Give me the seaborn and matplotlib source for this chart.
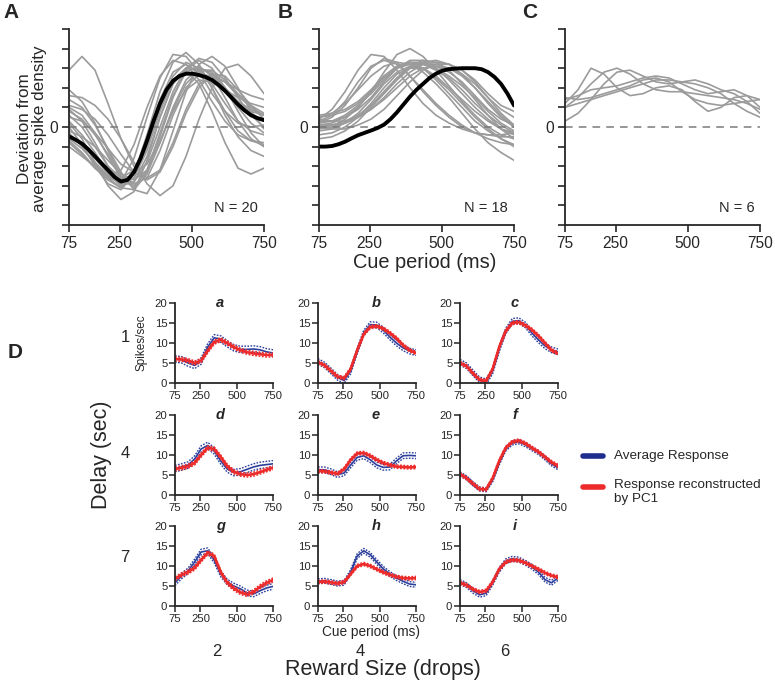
import matplotlib
matplotlib.use("Agg")
import matplotlib.pyplot as plt
from matplotlib.lines import Line2D
import pandas as pd
import seaborn as sns

# sample times (ms) of the cue period
t = [75, 120, 165, 210, 255, 300, 345, 390, 435, 480, 525, 570, 615, 660, 705, 750]
# finer sampling for the two population means
t_fine = [75, 97.5, 120, 142.5, 165, 187.5, 210, 232.5, 255, 277.5, 300, 322.5, 345, 367.5, 390,
          412.5, 435, 457.5, 480, 502.5, 525, 547.5, 570, 592.5, 615, 637.5, 660, 682.5, 705, 727.5, 750]
x_ticks = [75, 250, 500, 750]

# A: deviation from average spike density, 20 cells + mean
cells_a = [
    [2.9, 3.6, 2.9, 1.2, -0.6, -2.0, -2.6, -2.2, -0.8, 0.9, 2.2, 2.6, 2.3, 1.6, 1.0, 0.6],
    [1.0, 0.6, -0.3, -1.5, -2.6, -3.1, -2.2, -0.3, 1.6, 2.8, 3.1, 2.6, 1.5, 0.3, -0.6, -1.0],
    [0.3, -0.4, -1.3, -2.3, -3.0, -2.6, -1.0, 1.0, 2.6, 3.3, 3.0, 2.0, 0.8, -0.2, -0.7, -0.9],
    [-0.8, -1.4, -2.1, -2.7, -3.1, -2.4, -0.6, 1.4, 2.8, 3.2, 2.7, 2.3, 1.9, 1.5, 1.2, 1.0],
    [1.4, 1.0, 0.1, -1.1, -2.3, -3.2, -3.4, -2.2, -0.2, 1.8, 3.2, 3.6, 3.1, 2.0, 0.8, -0.1],
    [-0.3, -1.0, -1.9, -2.6, -2.8, -1.6, 0.5, 2.5, 3.7, 3.6, 2.8, 1.7, 0.8, 0.2, 0.0, 0.1],
    [0.6, 0.0, -1.0, -2.0, -2.6, -2.2, -0.8, 1.0, 2.4, 3.0, 2.9, 2.4, 1.8, 1.2, 0.8, 0.6],
    [1.6, 1.5, 1.1, 0.4, -0.6, -1.8, -2.9, -3.5, -3.0, -1.5, 0.4, 2.0, 3.0, 3.2, 2.6, 1.7],
    [0.2, -0.6, -1.8, -3.0, -3.7, -3.3, -1.7, 0.5, 2.2, 3.0, 2.9, 2.2, 1.2, 0.3, -0.2, -0.4],
    [-0.2, -0.5, -1.0, -1.7, -2.4, -2.7, -2.2, -0.8, 0.9, 2.2, 2.9, 2.9, 2.4, 1.7, 1.1, 0.7],
    [0.9, 0.3, -0.8, -2.0, -2.8, -2.6, -1.2, 0.8, 2.4, 2.9, 2.2, 0.8, -0.8, -2.1, -2.4, -2.1],
    [-1.0, -1.5, -2.0, -2.6, -3.1, -3.2, -2.4, -0.8, 1.0, 2.4, 3.0, 2.8, 2.0, 1.0, 0.2, -0.3],
    [0.5, 0.3, -0.3, -1.1, -1.9, -2.3, -1.9, -0.7, 0.8, 1.9, 2.4, 2.3, 1.8, 1.3, 0.9, 0.6],
    [1.9, 1.3, 0.2, -1.2, -2.5, -3.0, -2.3, -0.5, 1.5, 2.9, 3.4, 3.0, 2.0, 0.8, -0.3, -1.0],
    [0.0, -0.9, -2.0, -2.9, -3.2, -2.4, -0.4, 1.8, 3.3, 3.8, 3.2, 2.0, 0.6, -0.5, -1.2, -1.5],
    [-0.6, -1.1, -1.8, -2.5, -2.9, -2.8, -1.8, 0.0, 1.8, 3.0, 3.5, 3.3, 2.5, 1.5, 0.6, 0.0],
    [1.1, 0.9, 0.4, -0.4, -1.4, -2.3, -2.7, -2.3, -1.0, 0.7, 2.0, 2.7, 2.6, 1.9, 1.1, 0.4],
    [-0.4, -0.9, -1.6, -2.4, -3.0, -2.8, -1.5, 0.5, 2.2, 3.0, 3.0, 2.7, 2.3, 1.9, 1.6, 1.4],
    [0.8, 0.4, -0.4, -1.4, -2.4, -2.9, -2.6, -1.2, 0.6, 2.0, 2.7, 2.6, 2.0, 1.3, 0.7, 0.3],
    [-0.7, -1.3, -2.1, -2.5, -2.2, -0.9, 1.0, 2.6, 3.4, 3.2, 2.4, 1.3, 0.3, -0.4, -0.7, -0.8],
]
mean_a = [-0.48, -0.65, -0.85, -1.15, -1.5, -1.85, -2.2, -2.55, -2.78, -2.7, -2.3, -1.6, -0.7, 0.3,
          1.2, 1.9, 2.35, 2.6, 2.72, 2.72, 2.65, 2.55, 2.4, 2.15, 1.85, 1.5, 1.15, 0.85, 0.6, 0.45, 0.35]

# B: 18 cells + mean
cells_b = [
    [0.4, 0.9, 1.8, 2.9, 3.7, 3.6, 2.9, 2.0, 1.2, 0.6, 0.2, -0.1, -0.3, -0.4, -0.5, -0.5],
    [0.2, 0.5, 1.1, 2.0, 3.0, 3.5, 3.3, 2.6, 1.8, 1.1, 0.5, 0.0, -0.3, -0.4, -0.4, -0.3],
    [0.1, 0.2, 0.5, 1.0, 1.8, 2.8, 3.7, 4.0, 3.6, 2.9, 2.1, 1.3, 0.6, 0.0, -0.4, -0.6],
    [0.3, 0.3, 0.5, 0.9, 1.5, 2.3, 3.0, 3.4, 3.4, 3.0, 2.4, 1.7, 1.0, 0.4, -0.1, -0.4],
    [0.0, 0.0, 0.2, 0.5, 1.0, 1.7, 2.4, 3.0, 3.3, 3.4, 3.2, 2.7, 2.0, 1.2, 0.5, 0.0],
    [0.5, 0.7, 1.2, 1.9, 2.6, 3.1, 3.3, 3.2, 2.8, 2.2, 1.5, 0.7, -0.1, -0.8, -1.3, -1.7],
    [-0.2, -0.1, 0.2, 0.7, 1.4, 2.2, 2.8, 3.1, 3.2, 3.1, 2.8, 2.3, 1.6, 0.9, 0.4, 0.1],
    [0.6, 0.7, 0.9, 1.3, 1.9, 2.6, 3.1, 3.3, 3.2, 2.9, 2.5, 1.9, 1.2, 0.6, 0.1, -0.3],
    [0.0, 0.1, 0.3, 0.6, 1.1, 1.8, 2.5, 3.1, 3.4, 3.3, 2.9, 2.2, 1.4, 0.6, -0.1, -0.6],
    [-0.6, -0.5, -0.2, 0.3, 1.0, 1.8, 2.5, 3.0, 3.2, 3.2, 3.0, 2.6, 2.0, 1.3, 0.6, 0.0],
    [0.3, 0.6, 1.3, 2.3, 3.1, 3.4, 3.2, 2.6, 1.9, 1.2, 0.6, 0.1, -0.3, -0.6, -0.8, -0.9],
    [0.1, 0.1, 0.2, 0.5, 0.9, 1.5, 2.2, 2.8, 3.2, 3.3, 3.2, 2.9, 2.4, 1.7, 1.1, 0.8],
    [-0.4, -0.3, 0.0, 0.5, 1.2, 2.0, 2.7, 3.0, 3.0, 2.6, 2.0, 1.4, 0.8, 0.3, -0.1, -0.3],
    [0.2, 0.3, 0.6, 1.1, 1.7, 2.4, 3.0, 3.3, 3.3, 3.0, 2.6, 2.1, 1.5, 0.8, 0.2, -0.2],
    [0.4, 0.3, 0.3, 0.5, 0.9, 1.4, 2.0, 2.6, 3.0, 3.1, 3.0, 2.7, 2.2, 1.5, 0.9, 0.5],
    [-0.1, 0.0, 0.4, 1.0, 1.8, 2.6, 3.1, 3.3, 3.0, 2.4, 1.7, 1.0, 0.3, -0.2, -0.6, -0.9],
    [0.0, -0.1, -0.1, 0.1, 0.4, 0.9, 1.6, 2.3, 2.9, 3.2, 3.2, 2.9, 2.3, 1.5, 0.7, 0.1],
    [0.5, 0.6, 0.8, 1.2, 1.8, 2.5, 3.0, 3.2, 3.0, 2.5, 1.9, 1.2, 0.5, -0.1, -0.6, -1.0],
]
mean_b = [-1.0, -1.0, -0.97, -0.88, -0.75, -0.58, -0.42, -0.3, -0.18, -0.05, 0.12, 0.4, 0.75, 1.15,
          1.55, 1.9, 2.2, 2.5, 2.72, 2.88, 2.95, 2.98, 3.0, 3.0, 3.0, 2.95, 2.8, 2.55, 2.2, 1.7, 1.1]

# C: 6 cells, no mean
cells_c = [
    [1.2, 1.9, 3.0, 2.7, 2.0, 1.6, 1.7, 2.0, 2.1, 1.9, 1.3, 0.8, 1.0, 1.5, 1.6, 1.4],
    [1.0, 1.5, 2.2, 2.8, 3.0, 2.7, 2.2, 1.9, 1.8, 1.8, 1.7, 1.6, 1.5, 1.4, 1.2, 0.9],
    [0.3, 0.7, 1.4, 2.2, 2.8, 2.9, 2.6, 2.3, 2.2, 2.3, 2.4, 2.2, 1.9, 1.7, 1.3, 0.7],
    [1.4, 1.6, 1.9, 2.0, 2.1, 2.3, 2.5, 2.6, 2.5, 2.2, 1.9, 1.7, 1.8, 1.9, 1.6, 1.0],
    [1.0, 1.2, 1.4, 1.6, 1.8, 2.0, 2.2, 2.4, 2.4, 2.3, 2.2, 2.0, 1.7, 1.2, 0.8, 0.5],
    [1.5, 1.4, 1.5, 1.7, 1.9, 2.1, 2.4, 2.5, 2.3, 1.8, 1.4, 1.2, 1.1, 1.2, 1.3, 1.4],
]
panel_n = [20, 18, 6]

# D: spikes/sec, panels a..i (rows = delay, cols = reward size)
delays = ["1", "4", "7"]
rewards = ["2", "4", "6"]
panel_tags = ["a", "b", "c", "d", "e", "f", "g", "h", "i"]
avg_resp = [
    [6.0, 5.8, 5.0, 4.4, 5.5, 9.0, 11.3, 11.0, 9.8, 8.8, 8.4, 8.4, 8.5, 8.3, 7.8, 7.5],
    [5.4, 4.5, 3.0, 1.4, 0.6, 3.0, 8.0, 12.5, 14.6, 14.5, 13.2, 11.5, 10.0, 8.8, 8.0, 7.6],
    [5.2, 4.3, 2.5, 0.8, 0.3, 3.0, 8.5, 13.0, 15.4, 15.6, 14.5, 12.5, 10.8, 9.3, 8.3, 7.8],
    [6.6, 7.0, 7.5, 9.0, 11.5, 12.4, 11.0, 8.5, 6.5, 5.6, 5.8, 6.4, 7.0, 7.4, 7.6, 7.8],
    [6.3, 6.3, 5.8, 5.1, 5.5, 7.5, 9.4, 9.8, 8.8, 7.5, 6.9, 7.0, 8.5, 9.8, 9.9, 9.8],
    [5.3, 4.3, 2.8, 1.5, 1.3, 3.8, 8.0, 11.5, 13.0, 13.3, 12.6, 11.6, 10.6, 9.3, 7.8, 6.8],
    [5.8, 7.5, 8.8, 11.0, 13.5, 13.8, 11.5, 8.0, 6.0, 5.0, 4.3, 3.3, 3.0, 3.8, 4.5, 4.9],
    [6.2, 6.3, 6.0, 5.6, 5.8, 8.5, 12.5, 13.8, 12.8, 11.0, 9.3, 8.0, 7.0, 6.2, 5.5, 5.3],
    [6.0, 5.2, 3.8, 2.8, 3.2, 5.8, 9.0, 11.2, 11.8, 11.6, 10.8, 9.8, 8.5, 6.6, 5.8, 7.0],
]
pc1_resp = [
    [6.0, 5.9, 5.6, 5.0, 5.6, 8.0, 10.2, 10.8, 10.0, 9.0, 8.2, 7.7, 7.4, 7.2, 7.0, 7.0],
    [5.2, 4.4, 3.0, 1.6, 1.2, 3.5, 8.2, 12.2, 14.0, 14.2, 13.6, 12.5, 11.2, 9.5, 8.2, 7.5],
    [5.0, 4.2, 2.4, 0.8, 0.5, 3.5, 9.0, 13.0, 15.0, 15.2, 14.4, 13.3, 11.8, 10.0, 8.2, 7.4],
    [6.5, 6.8, 7.2, 8.0, 10.0, 11.8, 11.5, 9.5, 7.2, 5.8, 5.2, 5.0, 5.2, 5.7, 6.3, 6.8],
    [6.0, 5.9, 5.6, 5.3, 6.5, 8.8, 10.4, 10.5, 9.8, 8.8, 8.0, 7.5, 7.1, 7.0, 6.9, 7.0],
    [5.2, 4.2, 2.8, 1.5, 1.4, 4.2, 8.5, 11.8, 13.3, 13.6, 12.9, 11.8, 10.8, 9.5, 8.2, 7.3],
    [6.8, 7.8, 8.5, 9.5, 11.5, 13.3, 12.5, 8.5, 5.8, 4.4, 3.4, 2.9, 3.5, 4.8, 5.8, 6.5],
    [6.0, 6.1, 5.9, 5.6, 6.0, 8.0, 10.0, 10.5, 10.0, 9.2, 8.4, 7.8, 7.3, 7.0, 6.9, 7.0],
    [5.8, 5.2, 4.2, 3.5, 3.8, 6.0, 9.2, 11.0, 11.5, 11.4, 10.8, 10.0, 9.2, 8.3, 7.6, 7.2],
]
avg_sem = [0.8, 0.7, 0.7, 0.8, 0.7, 0.5, 0.7, 0.6, 0.6]
pc1_sem = [0.5, 0.4, 0.4, 0.5, 0.4, 0.4, 0.5, 0.4, 0.4]

sns.set_style("ticks")
plt.rcParams["font.family"] = ["Liberation Sans", "DejaVu Sans"]
plt.rcParams["axes.linewidth"] = 1.3

W, H = 775, 682
fig = plt.figure(figsize=(W / 100, H / 100), dpi=100)


def box(left, top, w, h):
    # pixel box -> figure fraction
    return [left / W, 1 - (top + h) / H, w / W, h / H]


def ftext(x, y, s, **kw):
    fig.text(x / W, 1 - y / H, s, ha=kw.pop("ha", "center"), va=kw.pop("va", "center"), **kw)


def cells_frame(cells):
    rows = []
    for i, c in enumerate(cells):
        for tt, v in zip(t, c):
            rows.append((i, tt, v))
    return pd.DataFrame(rows, columns=["cell", "t", "v"])


GRAY = "#9b9b9b"
BLUE = "#2c3f9c"
RED = "#ee2b2b"

# ---- top row A, B, C
top_panels = [(69, cells_a, mean_a, "A", 3), (319, cells_b, mean_b, "B", 278), (565, cells_c, None, "C", 522)]
for k, (left, cells, mean, tag, tag_x) in enumerate(top_panels):
    ax = fig.add_axes(box(left, 29, 195, 196))
    sns.lineplot(data=cells_frame(cells), x="t", y="v", units="cell", estimator=None,
                 color=GRAY, lw=1.2, ax=ax)
    ax.axhline(0, color="#7a7a7a", lw=1.1, ls=(0, (5, 4)))
    if mean is not None:
        sns.lineplot(x=t_fine, y=mean, color="black", lw=2.8, ax=ax)
    ax.set_xlim(75, 750)
    ax.set_ylim(-5, 5)
    ax.set_yticks(range(-5, 6))
    ax.set_yticklabels(["0" if v == 0 else "" for v in range(-5, 6)])
    ax.set_xticks(x_ticks)
    ax.tick_params(labelsize=11.2, length=5, width=1.2, pad=3)
    ax.set_xlabel("")
    ax.set_ylabel("")
    sns.despine(ax=ax)
    ax.text(0.97, 0.085, f"N = {panel_n[k]}", transform=ax.transAxes,
            ha="right", va="center", fontsize=10.5)
    ftext(tag_x, 13, tag, ha="left", fontsize=15, fontweight="bold")

ftext(32, 129, "Deviation from\naverage spike density", rotation=90, fontsize=12.3, linespacing=1.05)
ftext(425, 262, "Cue period (ms)", fontsize=14.4)

# ---- panel D grid
col_left = [175, 318, 460]
row_top = [303, 415, 526]
tag_x = [0.46, 0.59, 0.56]
dot = (0, (1.2, 1.0))
for r in range(3):
    for c in range(3):
        i = r * 3 + c
        ax = fig.add_axes(box(col_left[c], row_top[r], 98, 80))
        avg, pc1 = avg_resp[i], pc1_resp[i]
        sns.lineplot(x=t, y=avg, color=BLUE, lw=1.2, ax=ax)
        sns.lineplot(x=t, y=[v + avg_sem[i] for v in avg], color=BLUE, lw=1.0, ls=dot, ax=ax)
        sns.lineplot(x=t, y=[v - avg_sem[i] for v in avg], color=BLUE, lw=1.0, ls=dot, ax=ax)
        sns.lineplot(x=t, y=pc1, color=RED, lw=1.9, ax=ax)
        sns.lineplot(x=t, y=[v + pc1_sem[i] for v in pc1], color=RED, lw=1.1, ls=dot, ax=ax)
        sns.lineplot(x=t, y=[v - pc1_sem[i] for v in pc1], color=RED, lw=1.1, ls=dot, ax=ax)
        ax.set_xlim(75, 750)
        ax.set_ylim(0, 20)
        ax.set_yticks([0, 5, 10, 15, 20])
        ax.set_xticks(x_ticks)
        ax.tick_params(labelsize=8.2, length=4, width=1.1, pad=1.5)
        ax.set_xlabel("")
        ax.set_ylabel("")
        sns.despine(ax=ax)
        ax.text(tag_x[c], 1.0, panel_tags[i], transform=ax.transAxes, ha="center", va="center",
                fontsize=10.5, fontweight="bold", fontstyle="italic")

ftext(15, 352, "D", fontsize=15, fontweight="bold")
ftext(142, 343, "Spikes/sec", rotation=90, fontsize=8.5)
ftext(371, 632, "Cue period (ms)", fontsize=9.8)
for lab, y in zip(delays, [338, 453, 558]):
    ftext(125, y, lab, fontsize=12)
for lab, x in zip(rewards, [217, 360, 505]):
    ftext(x, 651, lab, fontsize=12)
ftext(102, 455, "Delay (sec)", rotation=90, fontsize=15.5)
ftext(383, 670, "Reward Size (drops)", fontsize=15.5)

# legend
fig.add_artist(Line2D([583 / W, 603 / W], [1 - 456 / H] * 2, color="#1f2d8c", lw=4))
fig.add_artist(Line2D([583 / W, 603 / W], [1 - 487 / H] * 2, color=RED, lw=4))
ftext(614, 456, "Average Response", ha="left", fontsize=9.7)
ftext(614, 492, "Response reconstructed\nby PC1", ha="left", fontsize=9.7, linespacing=1.25)

fig.savefig("out.png", dpi=100)
